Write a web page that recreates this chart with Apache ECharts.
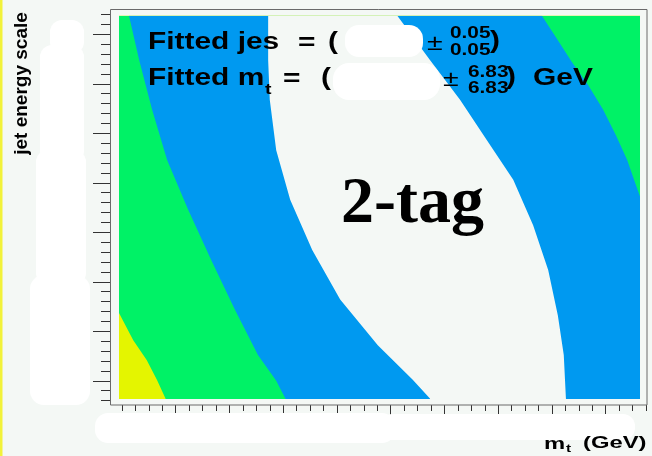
<!DOCTYPE html>
<html>
<head>
<meta charset="utf-8">
<script src="https://cdn.jsdelivr.net/npm/echarts@6/dist/echarts.min.js"></script>
<style>
  html, body { margin: 0; padding: 0; background: #f4f8f5; }
  #c { width: 652px; height: 456px; }
</style>
</head>
<body>
<div id="c"></div>
<script>
// Likelihood contour boundaries in (m_t [GeV], jet energy scale).
// Each ring is closed; the points past the frame only close the polygon.
const greenRingMt  = [115.9, 115.9, 119.5, 122.1, 124.6, 126.5, 128.1, 129.9, 227.5, 227.5];
const greenRingJes = [1.245, 0.947, 0.918, 0.891, 0.871, 0.851, 0.832, 0.810, 0.810, 1.245];

const blueRingMt  = [120.4, 121.3, 123.2, 125.6, 128.4, 132.3, 136.6, 141.0, 145.3, 148.7, 150.5, 152.4,
                     223.8, 223.8, 218.2, 216.6, 215.6, 214.0, 211.9, 209.5, 206.7, 203.7, 201.1, 198.1, 195.4];
const blueRingJes = [1.240, 1.219, 1.174, 1.124, 1.073, 1.023, 0.972, 0.922, 0.876, 0.850, 0.831, 0.810,
                     0.810, 0.932, 1.007, 1.033, 1.048, 1.073, 1.098, 1.124, 1.149, 1.172, 1.194, 1.219, 1.240];

const whiteRingMt  = [147.0, 147.2, 147.2, 147.5, 148.7, 151.3, 155.4, 160.6, 167.6, 174.1, 177.3, 179.2,
                      203.4, 202.6, 202.2, 201.1, 199.3, 196.5, 192.8, 187.9, 182.9, 177.3, 171.2, 168.6];
const whiteRingJes = [1.240, 1.219, 1.174, 1.134, 1.083, 1.033, 0.982, 0.932, 0.886, 0.851, 0.832, 0.810,
                      0.810, 0.832, 0.876, 0.916, 0.962, 1.007, 1.053, 1.093, 1.134, 1.174, 1.219, 1.240];

// Axis tick ranges (labels are not shown)
const mtMinorTicks  = { min: 120,  max: 217.5, step: 2.5 };
const mtMajorTicks  = { min: 130,  max: 210,   step: 10 };
const jesMinorTicks = { min: 0.83, max: 1.22,  step: 0.01 };
const jesMajorTicks = { min: 0.85, max: 1.20,  step: 0.05 };

// Pixel scale shared by every grid
const MT_ANCHOR = 130, MT_ANCHOR_PX = 175.7, PX_PER_GEV = 5.375;
const JES_ANCHOR = 1.0, JES_ANCHOR_PX = 232.3, PX_PER_JES = 990;
const mtToPx  = v => MT_ANCHOR_PX + (v - MT_ANCHOR) * PX_PER_GEV;
const pxToMt  = p => MT_ANCHOR + (p - MT_ANCHOR_PX) / PX_PER_GEV;
const jesToPx = v => JES_ANCHOR_PX - (v - JES_ANCHOR) * PX_PER_JES;
const pxToJes = p => JES_ANCHOR + (JES_ANCHOR_PX - p) / PX_PER_JES;

const PLOT = { left: 119, top: 15.7, right: 640, bottom: 399 };
const FRAME = { left: 110.5, top: 9.5, right: 647, bottom: 405 };

const COLORS = { yellow: '#e4f500', green: '#00f266', blue: '#0099f0', white: '#f4f8f5' };

function xTickGrid(r) {
  return { left: mtToPx(r.min), width: (r.max - r.min) * PX_PER_GEV, top: FRAME.bottom - 100, height: 100 };
}
function yTickGrid(r) {
  return { left: 111, width: 100, top: jesToPx(r.max), height: (r.max - r.min) * PX_PER_JES };
}
function tickAxis(gridIndex, r, len) {
  return {
    type: 'value', gridIndex, min: r.min, max: r.max, interval: r.step,
    axisLine: { show: false }, axisLabel: { show: false }, splitLine: { show: false },
    axisTick: { show: true, inside: false, length: len, lineStyle: { color: '#333', width: 1 } }
  };
}
const hidden = gridIndex => ({ type: 'value', gridIndex, show: false });

function ringSeries(mt, jes, color) {
  return {
    type: 'custom', xAxisIndex: 0, yAxisIndex: 0, silent: true, clip: true,
    data: mt.map((m, i) => [m, jes[i]]),
    renderItem(params, api) {
      if (params.dataIndex !== 0) return null;
      const pts = mt.map((m, i) => api.coord([m, jes[i]]));
      const cs = params.coordSys;
      return {
        type: 'polygon',
        shape: { points: pts },
        style: { fill: color, stroke: null },
        clipPath: { type: 'rect', shape: { x: cs.x, y: cs.y, width: cs.width, height: cs.height } }
      };
    }
  };
}

function label(text, x, y, size, opt) {
  opt = opt || {};
  return {
    type: 'text', x, y, z: 60, scaleX: opt.scaleX || 1, rotation: opt.rotation || 0,
    style: {
      text, fill: '#000',
      font: (opt.weight || 'bold') + ' ' + size + 'px ' + (opt.family || '"Liberation Sans", Arial, sans-serif'),
      align: opt.align || 'left', verticalAlign: 'middle'
    }
  };
}
function blob(x, y, w, h, r) {
  return { type: 'rect', z: 50, shape: { x, y, width: w, height: h, r }, style: { fill: '#ffffff' } };
}

const S = 1.3;
const chart = echarts.init(document.getElementById('c'), null, { renderer: 'canvas' });
chart.setOption({
  animation: false,
  backgroundColor: '#f4f8f5',
  grid: [
    { left: PLOT.left, top: PLOT.top, width: PLOT.right - PLOT.left, height: PLOT.bottom - PLOT.top,
      show: true, backgroundColor: COLORS.yellow, borderWidth: 0 },
    xTickGrid(mtMinorTicks),
    xTickGrid(mtMajorTicks),
    yTickGrid(jesMinorTicks),
    yTickGrid(jesMajorTicks)
  ],
  xAxis: [
    { type: 'value', gridIndex: 0, min: pxToMt(PLOT.left), max: pxToMt(PLOT.right), show: false },
    tickAxis(1, mtMinorTicks, 6),
    tickAxis(2, mtMajorTicks, 10),
    hidden(3), hidden(4)
  ],
  yAxis: [
    { type: 'value', gridIndex: 0, min: pxToJes(PLOT.bottom), max: pxToJes(PLOT.top), show: false },
    hidden(1), hidden(2),
    Object.assign(tickAxis(3, jesMinorTicks, 10), { position: 'left' }),
    Object.assign(tickAxis(4, jesMajorTicks, 18), { position: 'left' })
  ],
  series: [
    ringSeries(greenRingMt, greenRingJes, COLORS.green),
    ringSeries(blueRingMt, blueRingJes, COLORS.blue),
    ringSeries(whiteRingMt, whiteRingJes, COLORS.white)
  ],
  graphic: [
    { type: 'rect', z: 1, silent: true, shape: { x: 0, y: 0, width: 2.5, height: 456 }, style: { fill: '#f2f23a' } },
    { type: 'rect', z: 1, silent: true,
      shape: { x: FRAME.left, y: FRAME.top, width: FRAME.right - FRAME.left, height: FRAME.bottom - FRAME.top },
      style: { fill: 'none', stroke: '#6a6a6a', lineWidth: 1 } },

    // erased tick labels and fitted values
    blob(50, 20, 34, 34, 12), blob(40, 45, 44, 118, 12), blob(36, 150, 50, 135, 12),
    blob(30, 275, 60, 130, 14), blob(95, 413, 300, 30, 13), blob(380, 414, 255, 26, 12),
    blob(345, 25, 78, 32, 14), blob(333, 63, 107, 37, 16),

    // fit results
    label('Fitted jes', 148, 43, 23, { scaleX: S }),
    label('=', 298, 44, 23, { scaleX: S }),
    label('(', 328, 43, 23, { scaleX: S }),
    label('\u00b1', 427, 44, 22, { scaleX: S, weight: 'normal' }),
    label('0.05', 450, 34, 16, { scaleX: S }),
    label('0.05', 450, 51, 16, { scaleX: S }),
    label(')', 490, 42, 23, { scaleX: S }),

    label('Fitted m', 148, 78.5, 23, { scaleX: S }),
    label('t', 265, 90, 15, { scaleX: S }),
    label('=', 283, 79.5, 23, { scaleX: S }),
    label('(', 321, 78.5, 23, { scaleX: S }),
    label('\u00b1', 443, 79.5, 22, { scaleX: S, weight: 'normal' }),
    label('6.83', 468, 72.5, 16, { scaleX: S }),
    label('6.83', 468, 89, 16, { scaleX: S }),
    label(')', 506, 78, 23, { scaleX: S }),
    label('GeV', 533, 78.5, 23, { scaleX: S }),

    label('2-tag', 341, 205, 66, { family: '"Liberation Serif", "Times New Roman", serif' }),

    // axis titles
    label('jet energy scale', 21.7, 83.5, 19, { rotation: Math.PI / 2, align: 'center' }),
    label('m', 544, 444, 17, { scaleX: 1.4 }),
    label('t', 566, 449, 11, { scaleX: 1.4 }),
    label('(GeV)', 583, 443, 17, { scaleX: 1.4 })
  ]
});
</script>
</body>
</html>
